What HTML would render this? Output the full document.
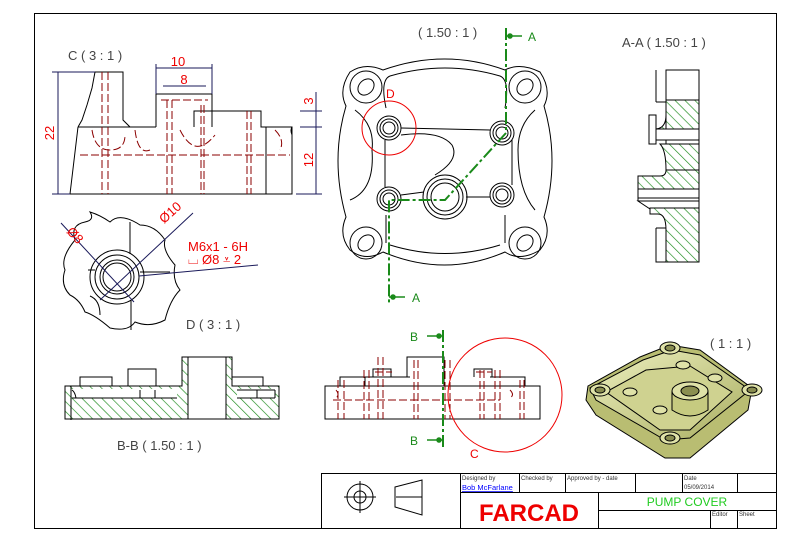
<!DOCTYPE html>
<html><head><meta charset="utf-8"><style>
html,body{margin:0;padding:0;background:#fff;}
svg{display:block;font-family:"Liberation Sans",sans-serif;}
</style></head><body>
<svg width="804" height="546" viewBox="0 0 804 546" xmlns="http://www.w3.org/2000/svg">
<defs>
<pattern id="h" width="7" height="7" patternUnits="userSpaceOnUse" patternTransform="rotate(-45)">
<rect width="7" height="7" fill="#fff"/><line x1="0" y1="0" x2="0" y2="7" stroke="#1a8a1a" stroke-width="1.3"/></pattern>
<linearGradient id="g" x1="0" y1="0" x2="1" y2="1"><stop offset="0" stop-color="#eef0c0"/><stop offset="1" stop-color="#a8ad60"/></linearGradient>
</defs>
<rect width="804" height="546" fill="#fff"/>
<rect x="34.5" y="13.5" width="742" height="515" fill="none" stroke="#000"/>

<!-- C view -->
<text x="68" y="60" font-size="13" fill="#444">C ( 3 : 1 )</text>
<g fill="none" stroke="#000" stroke-width="1">
<path d="M68 194H292V127H266"/>
<path d="M95 72H123V120L130 127M78 127L82 120L87 105L92 88L95 72M78 127L70 194"/>
<path d="M156 127V94H212V127M194 127V111H261V127H292"/>
<path d="M78 127H156"/>
<path d="M266 127V194"/>
<path d="M292 127Q290 130 292 135V194" />
</g>
<g fill="none" stroke="#8b0000" stroke-width="1" stroke-dasharray="8,3">
<path d="M102 72V194M108 72V194M167 100V194M172 100V194M201 105V194M204 105V194M247 111V194M251 111V194M80 155H290"/>
<path d="M92 130Q95 150 110 150Q125 150 125 135M135 130Q138 155 150 150M180 130Q195 160 215 135M275 130Q285 140 280 150"/>
<path d="M161 100H208"/>
</g>
<g stroke="#1a1a5a" stroke-width="1" fill="none">
<path d="M58 72V194M52 72H95M52 194H70M156 68H212M156 64V94M212 64V94M163 86H206M316 92V194M300 111H322M300 127H322M296 194H322"/>
</g>
<g fill="#e00" font-size="13">
<text x="178" y="66" text-anchor="middle">10</text><text x="184" y="84" text-anchor="middle">8</text>
<text transform="translate(54,133) rotate(-90)" text-anchor="middle">22</text>
<text transform="translate(313,101) rotate(-90)" text-anchor="middle">3</text>
<text transform="translate(313,160) rotate(-90)" text-anchor="middle">12</text>
</g>

<!-- D view -->
<g fill="none" stroke="#000" stroke-width="1">
<path d="M75 240Q70 225 85 222Q95 220 90 212Q100 215 110 222Q120 212 140 225Q155 225 165 240Q162 250 175 265Q172 280 180 290Q170 300 165 320Q150 328 135 322Q128 332 110 328Q95 315 85 312Q80 300 70 295Q60 285 65 270Q60 258 75 240Z"/>
<circle cx="117" cy="277" r="27"/><circle cx="117" cy="277" r="22"/><circle cx="117" cy="277" r="17"/><circle cx="117" cy="277" r="14"/>
<path d="M130 222V254M131 300V330M88 270H95M140 272H170M90 296Q100 300 100 315"/>
</g>
<g stroke="#1a1a5a" fill="none"><path d="M61 223L134 302M100 300L193 213M139 276L258 265"/></g>
<g fill="#e00" font-size="13">
<text transform="translate(66,232) rotate(47)">Ø8</text>
<text transform="translate(164,224) rotate(-42)">Ø10</text>
<text x="188" y="251">M6x1 - 6H</text>
<text x="188" y="264">⌴ Ø8 ⩡ 2</text>
</g>
<text x="186" y="329" font-size="13" fill="#444">D ( 3 : 1 )</text>

<!-- Front view -->
<text x="418" y="37" font-size="13" fill="#444">( 1.50 : 1 )</text>
<g fill="none" stroke="#000" stroke-width="1">
<path d="M383 70Q445 48 505 70Q520 62 540 72Q552 90 544 106Q560 160 544 217Q552 235 540 250Q520 262 505 252Q445 278 383 252Q365 262 350 250Q338 235 346 217Q330 160 346 106Q338 90 350 72Q365 62 383 70Z"/>
<path d="M390 76Q445 60 500 76Q510 80 505 108M390 76Q380 80 386 108M390 245Q445 262 500 245M386 215V243M505 215V243"/>
<circle cx="366" cy="87" r="16"/><ellipse cx="366" cy="87" rx="9" ry="7" transform="rotate(-45 366 87)"/>
<circle cx="525" cy="87" r="16"/><ellipse cx="525" cy="87" rx="9" ry="7" transform="rotate(-45 525 87)"/>
<circle cx="366" cy="243" r="16"/><ellipse cx="366" cy="243" rx="9" ry="7" transform="rotate(-45 366 243)"/>
<circle cx="525" cy="243" r="16"/><ellipse cx="525" cy="243" rx="9" ry="7" transform="rotate(-45 525 243)"/>
<circle cx="389" cy="128" r="12"/><circle cx="389" cy="128" r="9"/><circle cx="389" cy="128" r="6"/>
<circle cx="502" cy="133" r="12"/><circle cx="502" cy="133" r="9"/><circle cx="502" cy="133" r="6"/>
<circle cx="389" cy="199" r="12"/><circle cx="389" cy="199" r="9"/><circle cx="389" cy="199" r="6"/>
<circle cx="502" cy="195" r="12"/><circle cx="502" cy="195" r="9"/><circle cx="502" cy="195" r="6"/>
<circle cx="445" cy="197" r="22"/><circle cx="445" cy="197" r="18"/><circle cx="445" cy="197" r="14"/>
<path d="M401 128L490 130M401 135Q440 130 452 145Q460 160 435 175M385 140V187M401 195L424 192M466 197L490 197M512 140V185"/>
<path d="M355 110Q375 125 372 150Q375 190 350 200M535 110Q518 125 518 150Q518 190 535 210"/>
</g>
<circle cx="389" cy="128" r="27" fill="none" stroke="#e00"/>
<text x="386" y="98" font-size="12" fill="#e00">D</text>
<g stroke="#1a8a1a" stroke-width="2" fill="none" stroke-dasharray="12,3,3,3">
<path d="M506 28V133L445 200H389V303"/>
</g>
<g stroke="#1a8a1a" stroke-width="1.5" fill="#1a8a1a"><path d="M506 36H522"/><circle cx="510" cy="36" r="2"/><path d="M389 297H405"/><circle cx="393" cy="297" r="2"/></g>
<text x="528" y="41" font-size="12" fill="#1a8a1a">A</text>
<text x="412" y="302" font-size="12" fill="#1a8a1a">A</text>

<!-- A-A -->
<text x="622" y="47" font-size="13" fill="#444">A-A ( 1.50 : 1 )</text>
<g stroke="#000" stroke-width="1">
<path d="M667 70H699V262H666" fill="none"/>
<rect x="666" y="70" width="33" height="30" fill="#fff"/>
<path d="M666 100H699V129H656Q666 128 666 115V100Z" fill="url(#h)"/>
<path d="M656 102H666V170" fill="none"/>
<path d="M649 115H656V144H649Z" fill="#fff"/>
<path d="M656 129H699V140H656Z" fill="#fff"/>
<path d="M660 144H699V170H666Q666 150 660 144Z" fill="url(#h)"/>
<path d="M638 176H660Q666 176 666 170V170H699V189H638Z" fill="url(#h)"/>
<path d="M638 176V201" fill="none"/>
<rect x="638" y="189" width="61" height="9" fill="#fff"/>
<path d="M638 201H699V208H650V213H656Z" fill="#fff"/>
<path d="M650 208H699V262H666V230Q666 214 658 214H650Z" fill="url(#h)"/>
<path d="M656 228H666M656 228V262H666M656 70V102" fill="none"/>
</g>

<!-- B-B -->
<g stroke="#000" stroke-width="1">
<path d="M65 386H182V357H232V386H279V419H65Z" fill="url(#h)"/>
<rect x="188" y="357" width="38" height="62" fill="#fff"/>
<path d="M71 386V420" fill="none"/>
<rect x="72" y="389" width="105" height="9" fill="#fff" stroke="none"/>
<path d="M72 398H177M72 390Q75 392 76 398M140 390V398M155 390V398" fill="none"/>
<rect x="237" y="389" width="38" height="9" fill="#fff" stroke="none"/>
<path d="M237 398H275M237 390H275M257 390V398M275 390V398" fill="none"/>
<path d="M80 386V377H112V386M128 386V369H156V386M232 377H263V386" fill="none"/>
</g>
<text x="117" y="450" font-size="13" fill="#444">B-B ( 1.50 : 1 )</text>

<!-- side view -->
<g fill="none" stroke="#000"><path d="M325 419V386H540V419ZM340 386V377H365V386M373 377V369H391V377M407 377V357H444V386M474 377V369H492V377M492 377H525V386M364 377H410M490 377H525"/></g>
<g fill="none" stroke="#8b0000" stroke-dasharray="8,3"><path d="M338 380V419M344 380V419M364 370V419M369 370V419M378 357V419M383 357V419M414 360V419M418 360V419M445 360V419M450 360V419M480 370V419M484 370V419M495 370V419M500 370V419M520 380V419M524 380V419M333 400H500M375 372H392M476 372H492M336 390Q340 395 336 398M510 390Q515 395 510 398"/></g>
<circle cx="505" cy="395" r="57" fill="none" stroke="#e00"/>
<text x="470" y="458" font-size="12" fill="#e00">C</text>
<g stroke="#1a8a1a" stroke-width="2" fill="none" stroke-dasharray="12,3,3,3"><path d="M443 330V448"/></g>
<g stroke="#1a8a1a" stroke-width="1.5" fill="#1a8a1a"><path d="M427 336H442M427 440H442"/><circle cx="439" cy="336" r="2"/><circle cx="439" cy="440" r="2"/></g>
<text x="410" y="341" font-size="12" fill="#1a8a1a">B</text>
<text x="410" y="445" font-size="12" fill="#1a8a1a">B</text>

<!-- iso -->
<text x="710" y="348" font-size="13" fill="#444">( 1 : 1 )</text>
<g stroke="#000" stroke-width="1">
<path d="M588 386L640 357L670 345L700 350L752 388L748 410L690 458L665 458L596 415L586 400Z" fill="#b9bd72"/>
<path d="M590 388L643 360L672 350L700 355L750 390L690 438L665 440L596 400Z" fill="url(#g)"/>
<path d="M606 392L646 370L690 366L732 392L690 430L660 430Z" fill="#cfd290"/>
<ellipse cx="670" cy="348" rx="10" ry="6" fill="#dfe2a8"/><ellipse cx="670" cy="348" rx="5" ry="3" fill="#888c50"/>
<ellipse cx="600" cy="390" rx="10" ry="6" fill="#dfe2a8"/><ellipse cx="600" cy="390" rx="5" ry="3" fill="#888c50"/>
<ellipse cx="752" cy="390" rx="10" ry="6" fill="#dfe2a8"/><ellipse cx="752" cy="390" rx="5" ry="3" fill="#888c50"/>
<ellipse cx="670" cy="438" rx="10" ry="6" fill="#dfe2a8"/><ellipse cx="670" cy="438" rx="5" ry="3" fill="#888c50"/>
<path d="M672 392V410Q690 422 708 410V392Z" fill="#c6ca80"/>
<ellipse cx="690" cy="391" rx="18" ry="9" fill="#dfe2a8"/><ellipse cx="690" cy="391" rx="9" ry="5" fill="#8a8e50"/>
<ellipse cx="683" cy="365" rx="7" ry="4" fill="#dfe2a8"/><ellipse cx="715" cy="378" rx="7" ry="4" fill="#dfe2a8"/>
<ellipse cx="630" cy="392" rx="7" ry="4" fill="#dfe2a8"/><ellipse cx="660" cy="410" rx="7" ry="4" fill="#dfe2a8"/>
</g>

<!-- title block -->
<g fill="none" stroke="#000" stroke-width="1">
<rect x="321.5" y="473.5" width="455" height="55"/>
<path d="M460.5 474V528M460 492.5H776M519.5 474V492M565.5 474V492M635.5 474V492M682.5 474V492M737.5 474V492M598.5 492V528M598 510.5H776M710.5 510V528M737.5 510V528"/>
<circle cx="360" cy="497" r="13"/><circle cx="360" cy="497" r="6"/>
<path d="M344 497H376M360 481V513M396 497H422"/>
<path d="M395 487L422 480V515L395 507Z"/>
</g>
<g font-size="6" fill="#333"><text x="462" y="480">Designed by</text><text x="521" y="480">Checked by</text><text x="567" y="480">Approved by - date</text><text x="684" y="480">Date</text><text x="684" y="489">05/09/2014</text><text x="712" y="516">Editor</text><text x="739" y="516">Sheet</text></g>
<text x="462" y="490" font-size="7.5" fill="#00f" text-decoration="underline">Bob McFarlane</text>
<text x="529" y="521" font-size="24" font-weight="bold" fill="#e00" text-anchor="middle">FARCAD</text>
<text x="687" y="506" font-size="12" fill="#2c2" text-anchor="middle">PUMP COVER</text>
</svg>
</body></html>
